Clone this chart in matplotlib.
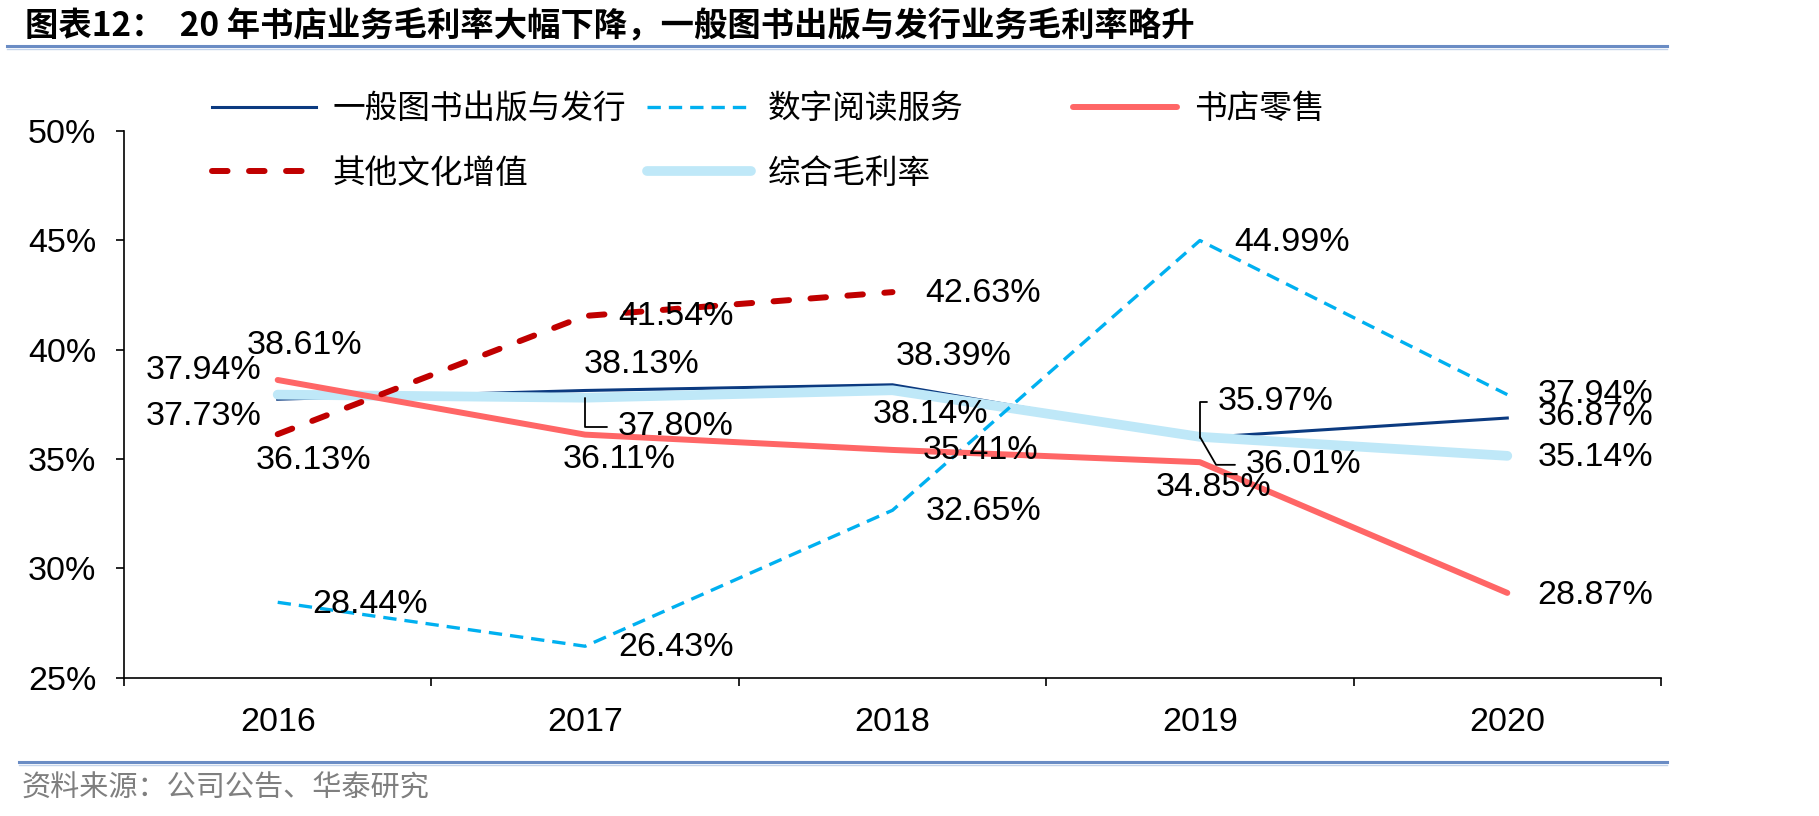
import numpy as np
import matplotlib.pyplot as plt
from matplotlib.lines import Line2D

# =========================
# 0. Data
# =========================
years = ['2016', '2017', '2018', '2019', '2020']
general_pub = [37.73, 38.13, 38.39, 35.97, 36.87]   # 一般图书出版与发行
digital = [28.44, 26.43, 32.65, 44.99, 37.94]       # 数字阅读服务
retail = [38.61, 36.11, 35.41, 34.85, 28.87]        # 书店零售
other = [36.13, 41.54, 42.63, np.nan, np.nan]       # 其他文化增值
overall = [37.94, 37.80, 38.14, 36.01, 35.14]       # 综合毛利率

names = ['一般图书出版与发行', '数字阅读服务', '书店零售', '其他文化增值', '综合毛利率']
yticks = [25, 30, 35, 40, 45, 50]

# label offsets in pixels (dx, dy)
general_off = [(-74, -17), (56, 26), (61, 28), (76, 36), (88, 2)]
digital_off = [(92, -2), (91, -1), (91, -1), (92, -2), (88, 0)]
retail_off = [(27, 34), (34, -25), (88, -1), (14, -25), (88, -3)]
other_off = [(36, -26), (91, -1), (91, -1), None, None]
overall_off = [(-74, 24), (91, -29), (38, -24), (104, -28), (88, -2)]
# labels with leader lines: (series index, point index) -> angleB
leaders = {(4, 1): 90, (0, 3): 90, (4, 3): -60}

plt.rcParams['font.family'] = ['Liberation Sans', 'Noto Sans CJK SC', 'DejaVu Sans']
CJK = ['Noto Sans CJK SC', 'DejaVu Sans']
FS = 24.5

W, H = 1819, 816
fig = plt.figure(figsize=(W / 100, H / 100), dpi=100)
ax = fig.add_axes([124 / W, 1 - 677.5 / H, (1661 - 124) / W, (677.5 - 131) / H])

x = np.arange(len(years))
l_gen, = ax.plot(x, general_pub, color='#0B3A80', lw=2.2, zorder=2.9)
l_dig, = ax.plot(x, digital, color='#00B0F0', lw=2.4, ls=(0, (4, 2.4)), zorder=3)
l_ret, = ax.plot(x, retail, color='#FF6666', lw=4.3, solid_capstyle='round', zorder=3)
l_oth, = ax.plot(x, other, color='#C00000', lw=4.3, ls=(0, (2.6, 3.6)),
                 dash_capstyle='round', zorder=3)
l_all, = ax.plot(x, overall, color='#BFE8F8', lw=7, solid_capstyle='round', zorder=2.95)

series = [general_pub, digital, retail, other, overall]
offsets = [general_off, digital_off, retail_off, other_off, overall_off]
for si, (vals, offs) in enumerate(zip(series, offsets)):
    for i, v in enumerate(vals):
        if offs[i] is None or np.isnan(v):
            continue
        dx, dy = offs[i]
        kw = {}
        if (si, i) in leaders:
            kw['arrowprops'] = dict(arrowstyle='-', color='black', lw=1.3,
                                    connectionstyle=f'angle,angleA=0,angleB={leaders[(si, i)]},rad=0',
                                    relpos=(0, 0.5), shrinkA=6, shrinkB=0)
        ax.annotate(f'{v:.2f}%', (i, v), xytext=(dx, dy), textcoords='offset pixels',
                    ha='center', va='center', fontsize=FS, color='black', zorder=5, **kw)

ax.set_xlim(-0.5, len(years) - 0.5)
ax.set_ylim(25, 50)
ax.set_yticks(yticks)
ax.set_yticklabels([f'{t}%' for t in yticks])
ax.set_xticks(x)
ax.set_xticklabels(years)
ax.set_xticks(np.arange(-0.5, len(years)), minor=True)
ax.tick_params(axis='x', which='major', length=0, pad=21, labelsize=FS)
ax.tick_params(axis='x', which='minor', length=6, width=1.2, direction='out')
ax.tick_params(axis='y', length=6, width=1.2, direction='out', pad=14, labelsize=FS)
for s in ['top', 'right']:
    ax.spines[s].set_visible(False)
for s in ['left', 'bottom']:
    ax.spines[s].set_linewidth(1.2)

# legend, three fixed columns
cols = [([l_gen, l_oth], [names[0], names[3]], 212),
        ([l_dig, l_all], [names[1], names[4]], 647),
        ([l_ret], [names[2]], 1073)]
for handles, labels, x0 in cols:
    fig.legend(handles, labels, loc='upper left', bbox_to_anchor=(x0 / W, 1 - 93 / H),
               bbox_transform=fig.transFigure, frameon=False, borderpad=0,
               borderaxespad=0, handlelength=3.2, handletextpad=0.5,
               labelspacing=1.0, prop={'family': CJK, 'size': 23.5})

# title, rules and source
fig.text(25 / W, 1 - 27 / H, '图表12：  20 年书店业务毛利率大幅下降，一般图书出版与发行业务毛利率略升',
         fontsize=24, fontweight='bold', family=CJK, va='center', ha='left')
fig.add_artist(Line2D([7 / W, 1667 / W], [1 - 46 / H] * 2, color='#6A8CC4', lw=2.2))
fig.add_artist(Line2D([7 / W, 1667 / W], [1 - 48.5 / H] * 2, color='#C3D3EA', lw=1))
fig.add_artist(Line2D([19 / W, 1667 / W], [1 - 762 / H] * 2, color='#6A8CC4', lw=2.2))
fig.add_artist(Line2D([19 / W, 1667 / W], [1 - 764.5 / H] * 2, color='#C3D3EA', lw=1))
fig.text(22 / W, 1 - 789 / H, '资料来源：公司公告、华泰研究', fontsize=21, color='#7F7F7F',
         family=CJK, va='center', ha='left')

fig.savefig('out.png', dpi=100)
